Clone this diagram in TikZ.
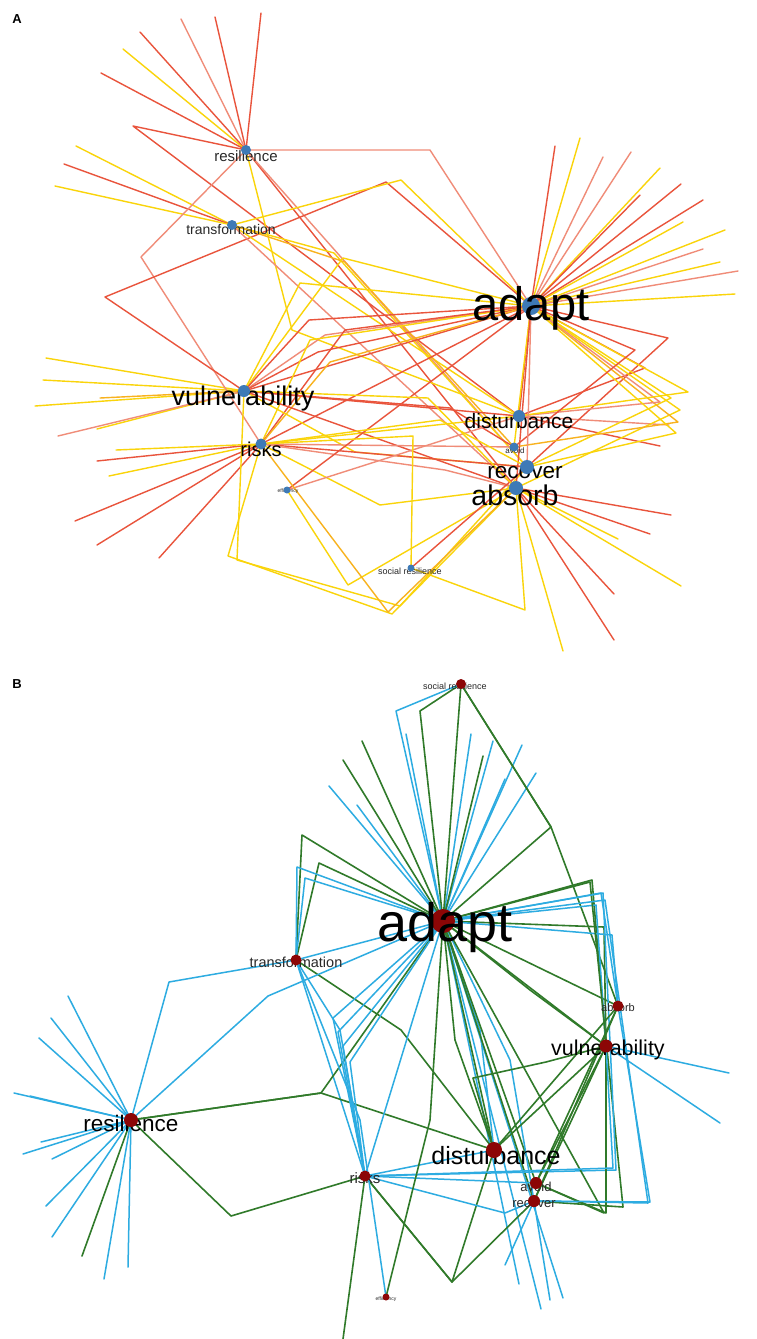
\documentclass[tikz,border=0pt]{standalone}
\usepackage{fontspec}
\setmainfont{Liberation Sans}
\definecolor{cR}{RGB}{233,84,60}
\definecolor{cS}{RGB}{240,140,120}
\definecolor{cY}{RGB}{250,212,10}
\definecolor{cO}{RGB}{248,178,30}
\definecolor{cBlue}{RGB}{62,122,182}
\definecolor{cC}{RGB}{45,172,225}
\definecolor{cG}{RGB}{48,122,42}
\definecolor{cDot}{RGB}{140,6,6}
\definecolor{cTxt}{RGB}{40,40,40}
\tikzset{
  aR/.style={draw=cR,line width=1.4pt},
  aS/.style={draw=cS,line width=1.4pt},
  aY/.style={draw=cY,line width=1.4pt},
  aO/.style={draw=cO,line width=1.4pt},
  bC/.style={draw=cC,line width=1.5pt},
  bG/.style={draw=cG,line width=1.6pt},
  lab/.style={inner sep=0pt,anchor=center,text=black},
  slab/.style={inner sep=0pt,anchor=center,text=cTxt},
}
\newcommand{\fs}[1]{\fontsize{#1}{#1}\selectfont}
\begin{document}
\begin{tikzpicture}[x=1pt,y=-1pt,line join=round,line cap=round]
\fill[white] (0,0) rectangle (756,1339);
\useasboundingbox (0,0) rectangle (756,1339);

% ================= PANEL A =================
\coordinate (rA) at (246,150);
\coordinate (tA) at (232,225);
\coordinate (aA) at (531,306);
\coordinate (vA) at (244,391);
\coordinate (kA) at (261,444);
\coordinate (eA) at (287,490);
\coordinate (dA) at (519,416);
\coordinate (oA) at (514,447);
\coordinate (cA) at (527,467);
\coordinate (bA) at (516,488);
\coordinate (sA) at (411,568);

% spokes
\foreach \x/\y/\s [count=\i] in {261/13/aR,215/17/aR,181/19/aS,140/32/aR,123/49/aY,101/73/aR}
  {\coordinate (rAs\i) at (\x,\y); \draw[\s] (rA) -- (rAs\i);}
\foreach \x/\y/\s [count=\i] in {76/146/aY,64/164/aR,55/186/aY}
  {\coordinate (tAs\i) at (\x,\y); \draw[\s] (tA) -- (tAs\i);}
\foreach \x/\y/\s [count=\i] in {555/146/aR,580/138/aY,603/157/aS,631/152/aS,660/168/aY,640/195/aR,681/184/aR,703/200/aR,683/222/aY,725/230/aY,703/249/aS,720/262/aY,738/271/aS,735/294/aY}
  {\coordinate (aAs\i) at (\x,\y); \draw[\s] (aA) -- (aAs\i);}
\foreach \x/\y/\s [count=\i] in {46/358/aY,43/380/aY,35/406/aY,97/429/aY,58/436/aS,100/398/aO}
  {\coordinate (vAs\i) at (\x,\y); \draw[\s] (vA) -- (vAs\i);}
\foreach \x/\y/\s [count=\i] in {97/461/aR,75/521/aR,97/545/aR,159/558/aR,116/450/aY,109/476/aY}
  {\coordinate (kAs\i) at (\x,\y); \draw[\s] (kA) -- (kAs\i);}
\foreach \x/\y/\s [count=\i] in {563/651/aY,614/640/aR,614/594/aR,681/586/aY,650/534/aR,671/515/aR,618/539/aY}
  {\coordinate (bAs\i) at (\x,\y); \draw[\s] (bA) -- (bAs\i);}
\foreach \x/\y/\s [count=\i] in {660/446/aR,669/425/aS}
  {\coordinate (dAs\i) at (\x,\y); \draw[\s] (dA) -- (dAs\i);}

% connectors
\draw[aS] (rA) -- (430,150) -- (aA);
\draw[aR] (rA) -- (133,126) -- (dA);
\draw[aS] (rA) -- (141,257) -- (kA);
\draw[aR] (rA) -- (bA);
\draw[aS] (rA) -- (cA);
\draw[aY] (rA) -- (292,330) -- (dA);
\draw[aR] (vA) -- (105,297) -- (386,182) -- (aA);
\draw[aY] (tA) -- (401,180) -- (aA);
\draw[aY] (tA) -- (dA);
\draw[aY] (tA) -- (334,253) -- (cA);
\draw[aS] (tA) -- (bA);
\draw[aO] (tA) -- (345,262) -- (oA);
\draw[aR] (vA) -- (aA);
\draw[aY] (vA) -- (300,283) -- (aA);
\draw[aY] (vA) -- (343,258) -- (aA);
\draw[aR] (vA) -- (309,320) -- (aA);
\draw[aS] (vA) -- (325,335) -- (aA);
\draw[aR] (vA) -- (318,352) -- (aA);
\draw[aR] (kA) -- (aA);
\draw[aY] (kA) -- (310,340) -- (aA);
\draw[aR] (kA) -- (345,330) -- (aA);
\draw[aO] (kA) -- (330,362) -- (aA);
\draw[aR] (vA) -- (dA);
\draw[aY] (vA) -- (355,452) -- (cA);
\draw[aR] (vA) -- (bA);
\draw[aR] (vA) -- (450,408) -- (oA);
\draw[aY] (kA) -- (dA);
\draw[aR] (kA) -- (cA);
\draw[aY] (kA) -- (380,505) -- (bA);
\draw[aS] (kA) -- (oA);
\draw[aS] (kA) -- (445,470) -- (bA);
\draw[aR] (eA) -- (aA);
\draw[aS] (eA) -- (dA);
\draw[aY] (eA) -- (348,585) -- (bA);
\draw[aY] (kA) -- (228,556) -- (392,614) -- (bA);
\draw[aY] (vA) -- (237,560) -- (400,606) -- (cA);
\draw[aY] (kA) -- (413,436) -- (sA);
\draw[aY] (sA) -- (525,610) -- (bA);
\draw[aR] (sA) -- (cA);
\draw[aO] (kA) -- (388,612) -- (bA);
\draw[aR] (aA) -- (645,368) -- (dA);
\draw[aR] (aA) -- (668,338) -- (cA);
\draw[aY] (aA) -- (671,398) -- (cA);
\draw[aY] (aA) -- (680,410) -- (bA);
\draw[aO] (aA) -- (678,422) -- (oA);
\draw[aS] (aA) -- (660,402) -- (dA);
\draw[aY] (aA) -- (676,433) -- (cA);
\draw[aY] (aA) -- (688,392) -- (dA);
\draw[aR] (aA) -- (635,350) -- (oA);
\draw[aR] (aA) -- (dA);
\draw[aY] (aA) -- (oA);
\draw[aS] (aA) -- (cA);
\draw[aR] (aA) -- (bA);
\draw[aY] (vA) -- (428,398) -- (bA);
\draw[aY] (kA) -- (440,420) -- (cA);

% dots and labels A
\node[slab,font=\fs{15}] (rAl) at (246,156) {resilience};
\node[slab,font=\fs{14}] (tAl) at (231,229) {transformation};
\node[lab,font=\fs{27}] (vAl) at (243,399) {vulnerability};
\node[lab,font=\fs{20}] (kAl) at (261,449) {risks};
\node[slab,font=\fs{5}] (eAl) at (288,491) {efficiency};
\node[slab,font=\fs{9}] (sAl) at (410,571) {social resilience};
\node[lab,font=\fs{21}] (dAl) at (519,421) {disturbance};
\node[slab,font=\fs{8}] (oAl) at (515,451) {avoid};
\node[lab,font=\fs{22.5}] (cAl) at (525,473) {recover};
\node[lab,font=\fs{28.5}] (bAl) at (515,495) {absorb};
\foreach \n/\r in {rA/5,tA/5,vA/6,kA/5.5,eA/3.5,sA/3.5,dA/6,oA/4.5,cA/7,bA/7}
  \fill[cBlue] (\n) circle (\r pt);
\fill[cBlue] (aA) circle (9pt);
\node[lab,font=\fs{47}] (aAl) at (531,308) {adapt};
\node[lab,font=\bfseries\fs{13}] (Alab) at (17,19) {A};

% ================= PANEL B =================
\coordinate (sB) at (461,684);
\coordinate (aB) at (443,921);
\coordinate (tB) at (296,960);
\coordinate (abB) at (618,1006);
\coordinate (vB) at (606,1046);
\coordinate (rB) at (131,1120);
\coordinate (dB) at (494,1150);
\coordinate (kB) at (365,1176);
\coordinate (oB) at (536,1183);
\coordinate (cB) at (534,1201);
\coordinate (eB) at (386,1297);

\foreach \x/\y/\s [count=\i] in {68/996/bC,51/1018/bC,39/1038/bC,14/1093/bC,30/1096/bC,23/1154/bC,41/1142/bC,52/1159/bC,46/1206/bC,52/1237/bC,82/1256/bG,104/1279/bC,128/1267/bC}
  {\coordinate (rBs\i) at (\x,\y); \draw[\s] (rB) -- (rBs\i);}
\foreach \x/\y/\s [count=\i] in {406/734/bC,329/786/bC,493/741/bC,522/745/bC,536/773/bC,505/779/bC,471/734/bC,357/805/bC,343/760/bG,362/741/bG,483/756/bG,519/1284/bC,541/1309/bC,563/1298/bC}
  {\coordinate (aBs\i) at (\x,\y); \draw[\s] (aB) -- (aBs\i);}
\foreach \x/\y/\s [count=\i] in {505/1265/bC,550/1300/bC}
  {\coordinate (cBs\i) at (\x,\y); \draw[\s] (cB) -- (cBs\i);}
\foreach \x/\y/\s [count=\i] in {729/1073/bC,720/1123/bC}
  {\coordinate (vBs\i) at (\x,\y); \draw[\s] (vB) -- (vBs\i);}
\coordinate (kBs1) at (343,1339); \draw[bG] (kB) -- (kBs1);

\draw[bG] (sB) -- (aB);
\draw[bG] (sB) -- (420,711) -- (aB);
\draw[bC] (sB) -- (396,711) -- (aB);
\draw[bG] (sB) -- (551,827) -- (aB);
\draw[bG] (sB) -- (551,827) -- (abB);
\draw[bG] (tB) -- (302,835) -- (aB);
\draw[bG] (tB) -- (319,863) -- (aB);
\draw[bC] (tB) -- (297,867) -- (aB);
\draw[bC] (tB) -- (305,878) -- (aB);
\draw[bC] (tB) -- (aB);
\draw[bG] (tB) -- (401,1030) -- (dB);
\draw[bC] (tB) -- (kB);
\draw[bC] (tB) -- (340,1030) -- (kB);
\draw[bC] (rB) -- (169,982) -- (tB);
\draw[bC] (rB) -- (268,996) -- (aB);
\draw[bG] (rB) -- (321,1093) -- (dB);
\draw[bG] (rB) -- (321,1093) -- (aB);
\draw[bG] (rB) -- (231,1216) -- (kB);
\draw[bC] (aB) -- (333,1018) -- (kB);
\draw[bC] (aB) -- (338,1032) -- (kB);
\draw[bC] (aB) -- (343,1046) -- (kB);
\draw[bC] (aB) -- (350,1062) -- (kB);
\draw[bC] (aB) -- (kB);
\draw[bG] (aB) -- (dB);
\draw[bG] (aB) -- (455,1040) -- (dB);
\draw[bC] (aB) -- (480,1030) -- (dB);
\draw[bG] (aB) -- (oB);
\draw[bG] (aB) -- (cB);
\draw[bC] (aB) -- (510,1060) -- (cB);
\draw[bG] (aB) -- (vB);
\draw[bG] (aB) -- (530,990) -- (vB);
\draw[bG] (aB) -- (abB);
\draw[bG] (aB) -- (592,880) -- (vB);
\draw[bC] (aB) -- (601,893) -- (abB);
\draw[bG] (aB) -- (604,927) -- (vB);
\draw[bC] (aB) -- (596,905) -- (vB);
\draw[bC] (aB) -- (612,935) -- (abB);
\draw[bG] (aB) -- (590,882) -- (623,1207) -- (cB);
\draw[bC] (aB) -- (603,893) -- (616,1170) -- (kB);
\draw[bC] (aB) -- (605,900) -- (648,1203) -- (cB);
\draw[bG] (aB) -- (604,1213) -- (oB);
\draw[bG] (kB) -- (452,1282) -- (dB);
\draw[bG] (kB) -- (452,1282) -- (cB);
\draw[bG] (dB) -- (473,1078) -- (546,1062) -- (vB);
\draw[bG] (vB) -- (dB);
\draw[bG] (vB) -- (oB);
\draw[bG] (vB) -- (cB);
\draw[bG] (vB) -- (606,1213) -- (oB);
\draw[bG] (abB) -- (dB);
\draw[bG] (abB) -- (cB);
\draw[bG] (abB) -- (oB);
\draw[bC] (abB) -- (650,1202) -- (cB);
\draw[bC] (kB) -- (613,1168) -- (vB);
\draw[bC] (kB) -- (505,1213) -- (cB);
\draw[bC] (kB) -- (dB);
\draw[bC] (kB) -- (oB);
\draw[bG] (eB) -- (430,1120) -- (aB);
\draw[bC] (eB) -- (360,1120) -- (tB);

% labels and dots B
\node[slab,font=\fs{9}] (sBl) at (455,686) {social resilience};
\node[slab,font=\fs{14.5}] (tBl) at (296,962) {transformation};
\node[slab,font=\fs{11}] (abBl) at (618,1008) {absorb};
\node[lab,font=\fs{21.5}] (vBl) at (608,1050) {vulnerability};
\node[lab,font=\fs{22.5}] (rBl) at (131,1123) {resilience};
\node[lab,font=\fs{25}] (dBl) at (496,1156) {disturbance};
\node[slab,font=\fs{15}] (kBl) at (365,1178) {risks};
\node[slab,font=\fs{13}] (oBl) at (536,1187) {avoid};
\node[slab,font=\fs{13}] (cBl) at (534,1204) {recover};
\node[slab,font=\fs{5}] (eBl) at (386,1299) {efficiency};
\foreach \n/\r in {sB/5,tB/5.5,abB/5.5,vB/6.5,rB/7,dB/8,kB/5.5,oB/6,cB/6,eB/3.5}
  \fill[cDot] (\n) circle (\r pt);
\fill[cDot] (aB) circle (12pt);
\node[lab,font=\fs{54}] (aBl) at (445,928) {adapt};
\node[lab,font=\bfseries\fs{13}] (Blab) at (17,684) {B};
\end{tikzpicture}
\end{document}
